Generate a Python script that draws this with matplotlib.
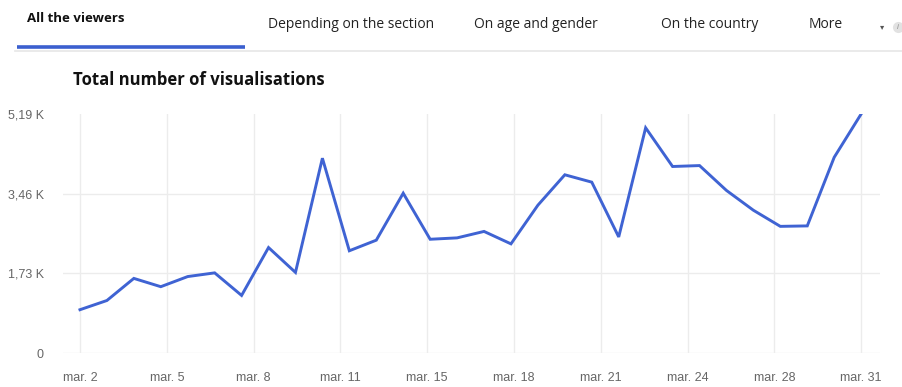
import numpy as np
import matplotlib
matplotlib.use("Agg")
import matplotlib.pyplot as plt

# Daily visualisations (thousands), March 2 - March 31
days = list(range(2, 32))
views_k = [0.94, 1.14, 1.62, 1.44, 1.66, 1.74, 1.25, 2.29, 1.75, 4.23,
           2.22, 2.45, 3.47, 2.47, 2.50, 2.64, 2.37, 3.21, 3.87, 3.71,
           2.52, 4.89, 4.05, 4.07, 3.53, 3.10, 2.75, 2.76, 4.25, 5.19]

y_ticks = [0, 1.73, 3.46, 5.19]
y_labels = ["0", "1,73 K", "3,46 K", "5,19 K"]
x_labels = ["mar. 2", "mar. 5", "mar. 8", "mar. 11", "mar. 15",
            "mar. 18", "mar. 21", "mar. 24", "mar. 28", "mar. 31"]
tabs = ["All the viewers", "Depending on the section", "On age and gender",
        "On the country", "More"]
tab_x = [27, 268, 474, 661, 809]

W, H = 903, 387
fig = plt.figure(figsize=(W / 100, H / 100), dpi=100)
fig.patch.set_facecolor("white")

def fx(px):
    return px / W

def fy(py):
    return 1 - py / H

# Tab bar
tab_font = "Open Sans"
for i, (label, x) in enumerate(zip(tabs, tab_x)):
    if i == 0:
        fig.text(fx(x), fy(18), label, fontsize=9.5, fontweight="bold",
                 family=tab_font, color="#111111", va="center", ha="left")
    else:
        fig.text(fx(x), fy(24), label, fontsize=10, family=tab_font,
                 color="#222222", va="center", ha="left")
fig.text(fx(882), fy(27), "▾", fontsize=6, color="#555555",
         va="center", ha="center", family="DejaVu Sans")
fig.add_artist(plt.Line2D([fx(898)], [fy(27)], marker="o", markersize=8,
                          markerfacecolor="#e2e2e2", markeredgecolor="none",
                          linestyle="none"))
fig.text(fx(898), fy(27), "i", fontsize=5, color="#888888", style="italic",
         va="center", ha="center")
fig.add_artist(plt.Line2D([fx(15), fx(903)], [fy(51), fy(51)],
                          color="#e6e6e6", lw=1.2))
fig.add_artist(plt.Line2D([fx(17), fx(245)], [fy(47), fy(47)],
                          color="#3b5fcf", lw=2.6, solid_capstyle="butt"))

# Title
fig.text(fx(73), fy(80), "Total number of visualisations", fontsize=12,
         fontweight="bold", family=tab_font, color="#111111",
         va="center", ha="left")

# Chart
ax = fig.add_axes([fx(63), fy(353), fx(880) - fx(63), fy(114) - fy(353)])
ax.plot(days, views_k, color="#3f63d3", lw=2.1, solid_joinstyle="miter",
        zorder=3)
ax.set_xlim(1.37, 31.7)
ax.set_ylim(0, 5.19)

x_ticks = np.linspace(days[0], days[-1], len(x_labels))
ax.set_xticks(x_ticks)
ax.set_xticklabels(x_labels)
ax.set_yticks(y_ticks)
ax.set_yticklabels(y_labels)

# vertical grid at each date tick, horizontal rules below the top value
ax.grid(True, axis="x", color="#ececec", lw=1.0, zorder=0)
for yv in y_ticks[:-1]:
    ax.axhline(yv, color="#ececec", lw=1.0, zorder=0)
for s in ax.spines.values():
    s.set_visible(False)
ax.tick_params(length=0, labelsize=9, labelcolor="#666666")
ax.tick_params(axis="x", pad=14)
ax.tick_params(axis="y", pad=14)
for lab in ax.get_xticklabels() + ax.get_yticklabels():
    lab.set_family("Liberation Sans")

fig.savefig("out.png", dpi=100, facecolor="white")
